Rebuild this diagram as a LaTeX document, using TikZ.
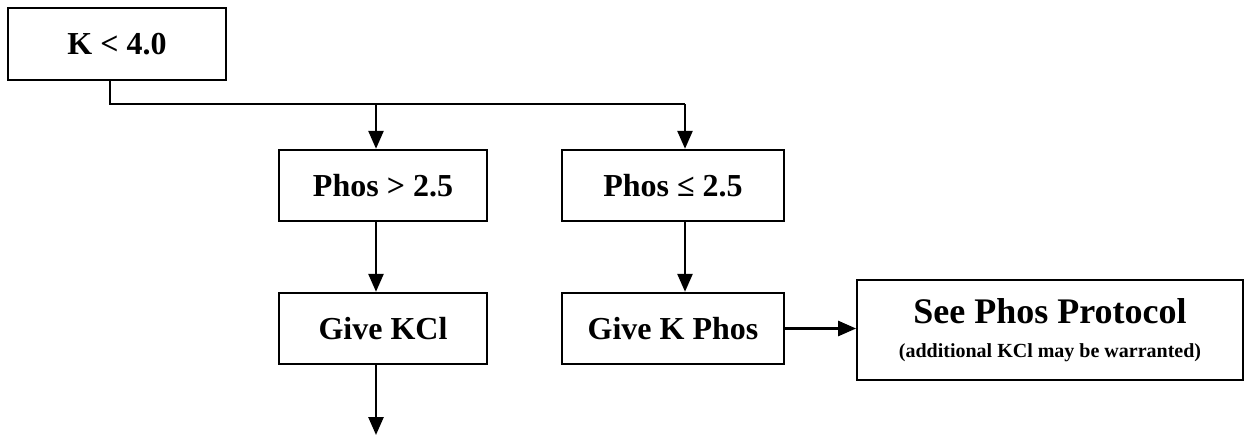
\documentclass[tikz,border=0pt]{standalone}
\usepackage{fontspec}
\setmainfont{Liberation Serif}
\usetikzlibrary{arrows.meta}
\begin{document}
\begin{tikzpicture}[x=1pt, y=-1pt,
    box/.style={draw, line width=2.4pt, inner sep=0pt, minimum height=71pt,
      font=\bfseries\fontsize{32}{36}\selectfont},
    line/.style={line width=2.6pt},
    arrow/.style={line width=2.6pt, -{Triangle[width=15pt,length=18pt]}}]
    \useasboundingbox (0,0) rectangle (1249,437);

    \node[box, minimum width=218pt, minimum height=72pt] (kbox) at (117,44) {K < 4.0};
    \node[box, minimum width=208pt] (phhi) at (383,185.5) {Phos > 2.5};
    \node[box, minimum width=222pt] (phlo) at (673,185.5) {Phos ≤ 2.5};
    \node[box, minimum width=208pt] (gkcl) at (383,328.5) {Give KCl};
    \node[box, minimum width=222pt] (gkphos) at (673,328.5) {Give K Phos};
    \node[box, line width=1.8pt, minimum width=386pt, minimum height=100pt,
      align=center] (seephos) at (1050,330)
      {{\fontsize{36}{40}\selectfont See Phos Protocol}\\[-2pt]
       {\fontsize{20}{24}\selectfont (additional KCl may be warranted)}};

    \coordinate (bus) at (0,104);
    \coordinate (end) at (376,435);

    \draw[line] ([xshift=-7pt]kbox.south) |- ([xshift=12pt]phlo.north |- bus);
    \draw[arrow] ([xshift=-7pt]phhi.north |- bus) -- ([xshift=-7pt]phhi.north);
    \draw[arrow] ([xshift=12pt]phlo.north |- bus) -- ([xshift=12pt]phlo.north);
    \draw[arrow] ([xshift=-7pt]phhi.south) -- ([xshift=-7pt]gkcl.north);
    \draw[arrow] ([xshift=12pt]phlo.south) -- ([xshift=12pt]gkphos.north);
    \draw[arrow] ([xshift=-7pt]gkcl.south) -- (end);
    \draw[arrow] (gkphos.east) -- (seephos.west |- gkphos.east);
  \end{tikzpicture}
\end{document}
